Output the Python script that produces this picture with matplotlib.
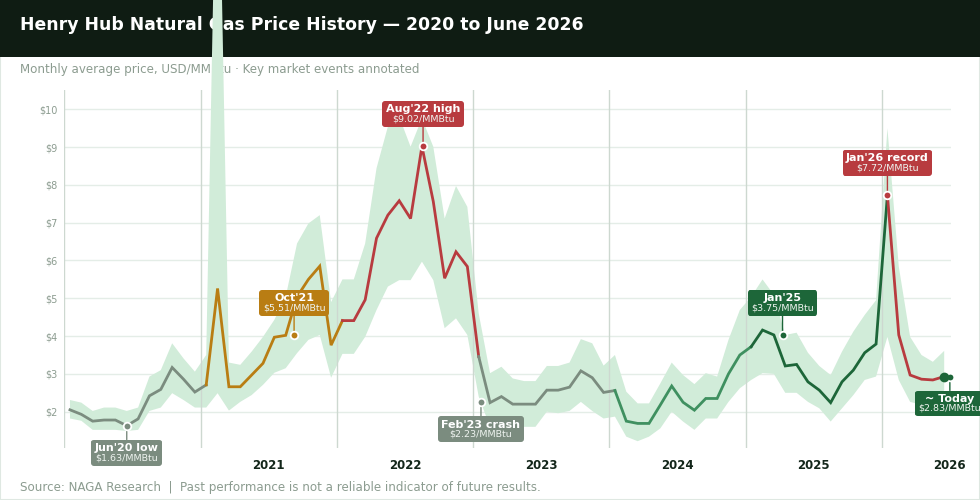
import matplotlib.pyplot as plt
from matplotlib.patches import Rectangle
from matplotlib.offsetbox import AnnotationBbox, TextArea, VPacker

# monthly average price, Jan 2020 .. Jun 2026 (index = month number)
price = [2.05, 1.93, 1.75, 1.78, 1.78, 1.63, 1.81, 2.42, 2.59, 3.17, 2.86, 2.52,
         2.71, 5.26, 2.66, 2.66, 2.97, 3.28, 3.97, 4.02, 5.04, 5.50, 5.85, 3.76,
         4.41, 4.41, 4.96, 6.59, 7.20, 7.58, 7.11, 9.02, 7.56, 5.53, 6.23, 5.84,
         3.46, 2.24, 2.40, 2.20, 2.20, 2.20, 2.57, 2.57, 2.65, 3.08, 2.90, 2.51,
         2.56, 1.75, 1.69, 1.69, 2.18, 2.68, 2.25, 2.04, 2.35, 2.35, 3.00, 3.50,
         3.72, 4.16, 4.03, 3.21, 3.25, 2.79, 2.57, 2.24, 2.79, 3.10, 3.56, 3.79,
         7.73, 4.03, 2.97, 2.86, 2.84, 2.93]
band_hi = [2.31, 2.24, 2.02, 2.11, 2.11, 2.02, 2.11, 2.93, 3.10, 3.81, 3.41, 3.06,
           3.50, 19.1, 3.30, 3.24, 3.59, 3.98, 4.43, 5.04, 6.45, 6.98, 7.20, 4.90,
           5.50, 5.50, 6.45, 8.44, 9.54, 9.80, 9.01, 9.76, 9.01, 7.11, 7.97, 7.42,
           4.60, 3.02, 3.19, 2.88, 2.81, 2.81, 3.21, 3.21, 3.30, 3.92, 3.81, 3.22,
           3.50, 2.53, 2.22, 2.22, 2.75, 3.30, 2.97, 2.73, 3.02, 2.93, 3.90, 4.69,
           5.04, 5.50, 5.09, 4.03, 4.09, 3.56, 3.21, 2.97, 3.59, 4.12, 4.56, 4.95,
           9.50, 5.84, 3.98, 3.50, 3.32, 3.61]
band_lo = [1.82, 1.76, 1.52, 1.52, 1.52, 1.49, 1.52, 2.02, 2.11, 2.49, 2.31, 2.11,
           2.11, 2.49, 2.03, 2.26, 2.44, 2.71, 3.03, 3.15, 3.55, 3.90, 4.03, 2.90,
           3.53, 3.53, 3.98, 4.69, 5.31, 5.48, 5.48, 5.97, 5.48, 4.21, 4.47, 4.03,
           2.40, 1.60, 1.60, 1.60, 1.60, 1.60, 2.00, 1.96, 2.02, 2.26, 2.02, 1.82,
           1.87, 1.34, 1.22, 1.34, 1.56, 2.00, 1.74, 1.52, 1.82, 1.82, 2.26, 2.62,
           2.84, 3.02, 3.00, 2.50, 2.50, 2.26, 2.09, 1.74, 2.09, 2.44, 2.84, 2.93,
           3.98, 2.84, 2.26, 2.18, 2.18, 2.57]

# line colour per year segment
seg_start = [0, 12, 24, 36, 48, 60, 72]
seg_color = ['#7b8c7f', '#b97d13', '#b83b3f', '#7b8c7f', '#3f9060', '#1d6639', '#b83b3f']

year_labels = ['2021', '2022', '2023', '2024', '2025', '2026']
year_pos = [17.5, 29.5, 41.5, 53.5, 65.5, 77.5]
year_lines = [-0.5, 11.5, 23.5, 35.5, 47.5, 59.5, 71.5]

# annotations: title, value text, x (month), y (price), colour, above?
ann_title = ["Jun'20 low", "Oct'21", "Aug'22 high", "Feb'23 crash", "Jan'25", "Jan'26 record", "~ Today"]
ann_value = ["$1.63/MMBtu", "$5.51/MMBtu", "$9.02/MMBtu", "$2.23/MMBtu", "$3.75/MMBtu", "$7.72/MMBtu", "$2.83/MMBtu"]
ann_x = [5.0, 19.74, 31.1, 36.2, 62.76, 72.0, 77.5]
ann_y = [1.63, 4.02, 9.02, 2.25, 4.02, 7.73, 2.93]
ann_color = ['#7b8c7f', '#b97d13', '#b83b3f', '#7b8c7f', '#1d6639', '#b83b3f', '#1d6639']
ann_above = [False, True, True, False, True, True, False]

fig = plt.figure(figsize=(9.8, 5.0), dpi=100)
fig.patch.set_facecolor('white')

# header bar + texts sit underneath the axes (band spike runs over them)
fig.patches.append(Rectangle((0, 1 - 57 / 500), 1, 57 / 500, transform=fig.transFigure,
                             facecolor='#0f1c13', edgecolor='none', zorder=-2))
fig.text(20 / 980, 1 - 25 / 500, 'Henry Hub Natural Gas Price History \u2014 2020 to June 2026',
         color='white', fontsize=12.4, fontweight='bold', va='center', ha='left', zorder=-1)
fig.text(20 / 980, 1 - 70 / 500, 'Monthly average price, USD/MMBtu \u00b7 Key market events annotated',
         color='#8c9c90', fontsize=8.6, va='center', ha='left', zorder=-1)
fig.text(20 / 980, 1 - 487 / 500,
         'Source: NAGA Research  |  Past performance is not a reliable indicator of future results.',
         color='#8c9c90', fontsize=8.6, va='center', ha='left')
fig.patches.append(Rectangle((0, 0), 1, 1, transform=fig.transFigure, fill=False,
                             edgecolor='#dfe8e2', lw=1.5, zorder=-3))

ax = fig.add_axes([64.3 / 980, 1 - 448 / 500, (951 - 64.3) / 980, (448 - 90) / 500])
ax.set_xlim(-0.5, 77.6)
ax.set_ylim(1.04, 10.51)
for s in ax.spines.values():
    s.set_visible(False)

months = list(range(len(price)))
for v in range(2, 11):
    ax.axhline(v, color='#e4ede7', lw=1, zorder=0)
ax.fill_between(months, band_lo, band_hi, color='#d1ecd9', lw=0, zorder=1, clip_on=False)
for xl in year_lines:
    ax.axvline(xl, color='#cdd8d0', lw=1, zorder=1.5)

for i, st in enumerate(seg_start):
    en = seg_start[i + 1] if i + 1 < len(seg_start) else len(price) - 1
    ax.plot(months[st:en + 1], price[st:en + 1], color=seg_color[i], lw=2,
            solid_joinstyle='miter', zorder=3)

ax.set_yticks(range(2, 11))
ax.set_yticklabels(['$%d' % v for v in range(2, 11)])
ax.set_xticks(year_pos)
ax.set_xticklabels(year_labels)
ax.tick_params(axis='y', length=0, pad=5, labelsize=7, labelcolor='#8c9c90')
ax.tick_params(axis='x', length=0, pad=8, labelsize=8.5, labelcolor='#13261a')
for t in ax.get_xticklabels():
    t.set_fontweight('bold')

for i in range(len(ann_title)):
    c = ann_color[i]
    t1 = TextArea(ann_title[i], textprops=dict(color='white', fontsize=8, fontweight='bold'))
    t2 = TextArea(ann_value[i], textprops=dict(color='#eef3ef', fontsize=6.8))
    box = VPacker(children=[t1, t2], align='center', pad=0, sep=0)
    dy = 23.4 if ann_above[i] else -19.4
    ab = AnnotationBbox(box, (ann_x[i], ann_y[i]), xybox=(0, dy), xycoords='data',
                        boxcoords='offset points', pad=0.3, annotation_clip=False,
                        bboxprops=dict(boxstyle='round,pad=0.25,rounding_size=0.2',
                                       fc=c, ec='none'),
                        arrowprops=dict(arrowstyle='-', color=c, lw=1, shrinkA=0, shrinkB=0))
    ab.set_zorder(5)
    ax.add_artist(ab)
    ax.plot(ann_x[i], ann_y[i], 'o', color=c, ms=5.5, mec='white', mew=1.3, zorder=6, clip_on=False)

# current price marker
ax.plot(months[-1], price[-1], 'o', color='#1d6639', ms=6, zorder=7, clip_on=False)

fig.savefig('out.png', dpi=100)
